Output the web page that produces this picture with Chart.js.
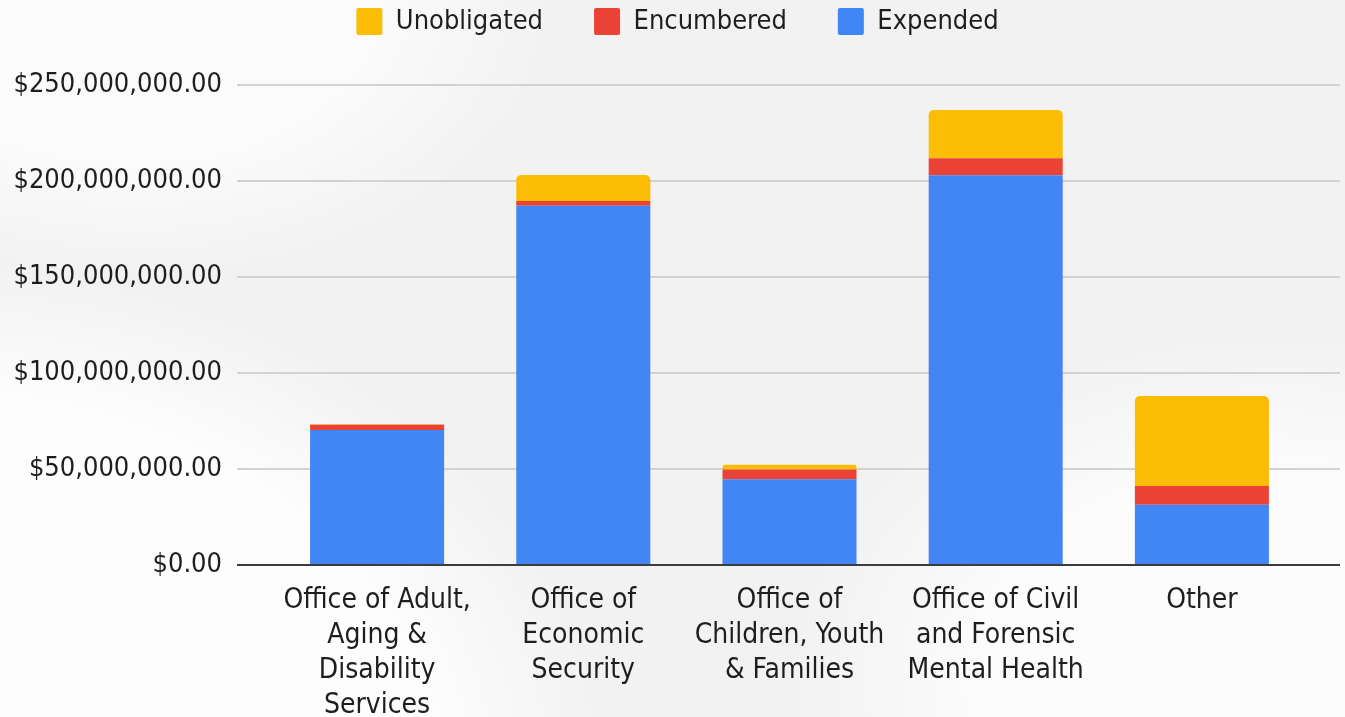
<!DOCTYPE html>
<html>
<head>
  <meta charset="UTF-8" />
  <title>Funds by Office</title>
  <script src="https://cdn.jsdelivr.net/npm/chart.js"></script>
  <style>
    html, body {
      margin: 0;
      padding: 0;
      overflow: hidden;
    }
    body {
      width: 1345px;
      height: 717px;
      background:
        radial-gradient(ellipse 900px 700px at -5% 110%, rgba(255,255,255,0.9) 0 55%, rgba(255,255,255,0) 75%),
        radial-gradient(ellipse 700px 500px at 95% 95%, rgba(255,255,255,0.8) 0 40%, rgba(255,255,255,0) 70%),
        radial-gradient(ellipse 600px 400px at 10% 0%, rgba(255,255,255,0.7) 0 40%, rgba(255,255,255,0) 70%),
        #f2f2f2;
    }
    #wrap {
      position: relative;
      width: 1345px;
      height: 717px;
    }
  </style>
</head>
<body>
  <div id="wrap"><canvas id="fundsChart" width="1345" height="717"></canvas></div>

  <script>
    const offices = [
      ['Office of Adult,', 'Aging &', 'Disability', 'Services'],
      ['Office of', 'Economic', 'Security'],
      ['Office of', 'Children, Youth', '& Families'],
      ['Office of Civil', 'and Forensic', 'Mental Health'],
      'Other'
    ];
    const expended = [70300000, 187100000, 44600000, 203000000, 31400000];
    const encumbered = [2700000, 2500000, 5200000, 8800000, 9700000];
    const unobligated = [300000, 13500000, 2400000, 25200000, 46900000];
    const yTicks = [0, 50000000, 100000000, 150000000, 200000000, 250000000];

    const FONT = '"DejaVu Sans Condensed", "DejaVu Sans", sans-serif';
    const TEXT = '#1e1e1e';

    const money = v => '$' + Number(v).toLocaleString('en-US', { minimumFractionDigits: 2, maximumFractionDigits: 2 });

    // push the plot area down below the legend, nudge legend a bit right
    const legendSpacer = {
      id: 'legendSpacer',
      beforeInit(chart) {
        const fit = chart.legend.fit;
        chart.legend.fit = function () {
          fit.call(this);
          this.height += 40;
        };
      },
      afterLayout(chart) {
        chart.legend.left += 5;
        chart.legend.right += 5;
      }
    };

    // horizontal guide lines, wider than the bar area
    const guideLines = {
      id: 'guideLines',
      beforeDatasetsDraw(chart) {
        const { ctx } = chart;
        const y = chart.scales.y;
        ctx.save();
        ctx.strokeStyle = '#d2d2d2';
        ctx.lineWidth = 2;
        y.ticks.forEach(t => {
          if (t.value === 0) return;
          const py = Math.round(y.getPixelForValue(t.value));
          ctx.beginPath();
          ctx.moveTo(237, py);
          ctx.lineTo(1340, py);
          ctx.stroke();
        });
        ctx.restore();
      },
      afterDatasetsDraw(chart) {
        const { ctx } = chart;
        const py = Math.round(chart.scales.y.getPixelForValue(0));
        ctx.save();
        ctx.strokeStyle = '#3c3c3c';
        ctx.lineWidth = 2;
        ctx.beginPath();
        ctx.moveTo(237, py);
        ctx.lineTo(1340, py);
        ctx.stroke();
        ctx.restore();
      }
    };

    new Chart(document.getElementById('fundsChart'), {
      type: 'bar',
      data: {
        labels: offices,
        datasets: [
          { label: 'Expended', data: expended, backgroundColor: '#4285f4' },
          { label: 'Encumbered', data: encumbered, backgroundColor: '#ea4335' },
          { label: 'Unobligated', data: unobligated, backgroundColor: '#fbbc04' }
        ]
      },
      options: {
        responsive: false,
        devicePixelRatio: 1,
        animation: false,
        layout: { padding: { top: -43, left: 0, right: 0, bottom: 0 } },
        datasets: {
          bar: {
            barPercentage: 0.65,
            categoryPercentage: 1.0,
            borderWidth: 0,
            borderRadius: 5
          }
        },
        scales: {
          x: {
            stacked: true,
            offset: true,
            grid: { display: false, drawTicks: false },
            border: { display: false },
            ticks: {
              color: TEXT,
              font: { family: FONT, size: 28, lineHeight: 1.25 },
              padding: 18,
              maxRotation: 0,
              autoSkip: false
            },
            afterFit: s => { s.height = 152; }
          },
          y: {
            stacked: true,
            min: 0,
            max: 250000000,
            grid: { display: false, drawTicks: false },
            border: { display: false },
            afterBuildTicks: s => { s.ticks = yTicks.map(v => ({ value: v })); },
            ticks: {
              color: TEXT,
              font: { family: FONT, size: 27 },
              padding: 52,
              callback: v => money(v)
            },
            afterFit: s => { s.width = 274; }
          },
          y2: {
            position: 'right',
            display: true,
            grid: { display: false, drawTicks: false },
            border: { display: false },
            ticks: { display: false },
            afterFit: s => { s.width = 40; }
          }
        },
        plugins: {
          tooltip: { enabled: false },
          legend: {
            position: 'top',
            reverse: true,
            labels: {
              color: TEXT,
              font: { family: FONT, size: 27 },
              boxWidth: 26,
              boxHeight: 27,
              padding: 51,
              useBorderRadius: true,
              borderRadius: 2
            }
          }
        }
      },
      plugins: [legendSpacer, guideLines]
    });
  </script>
</body>
</html>
